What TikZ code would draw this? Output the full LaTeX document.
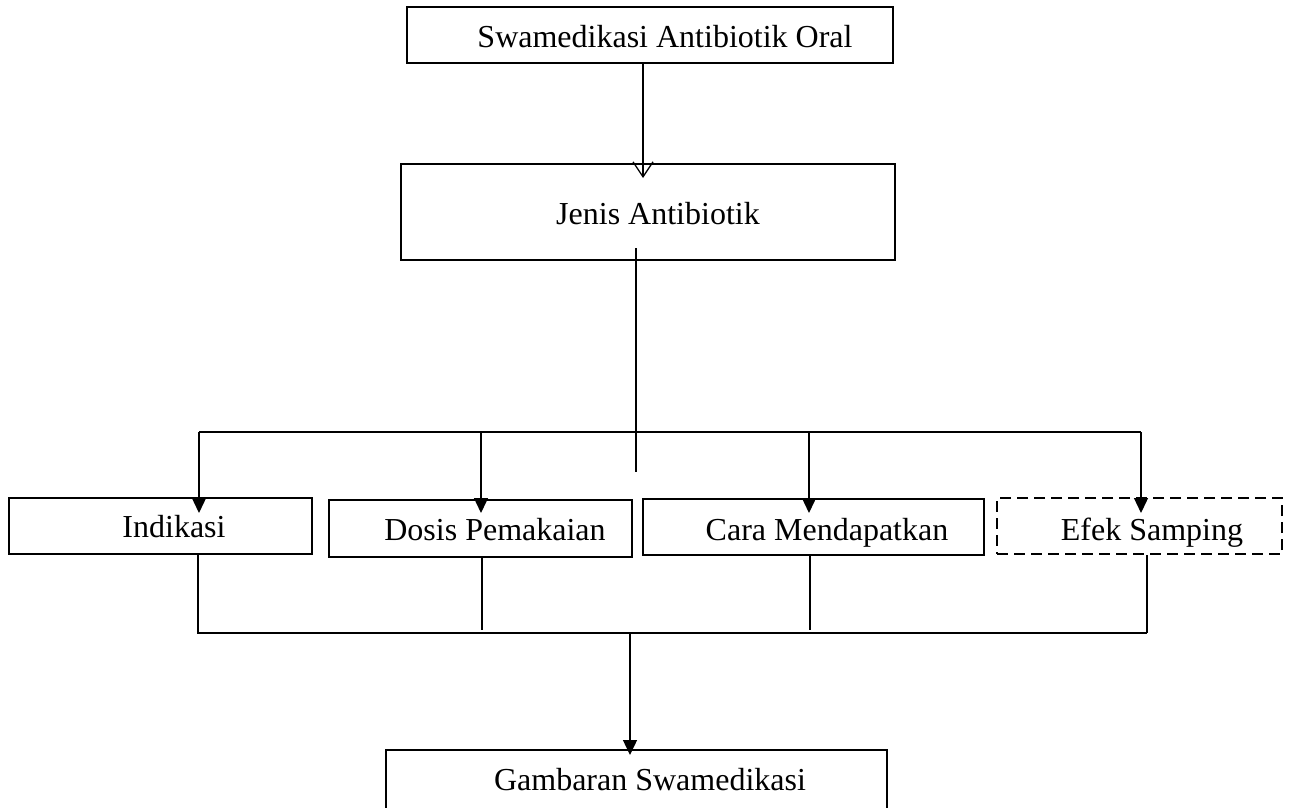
\documentclass[tikz,border=0pt]{standalone}
\usepackage{fontspec}
\setmainfont{Liberation Serif}
\usetikzlibrary{arrows.meta}
\begin{document}
\begin{tikzpicture}[x=1pt,y=-1pt,
  box/.style={draw=black,line width=1.3pt,rectangle,inner sep=0pt,anchor=center},
  dbox/.style={draw=black,line width=2.3pt,rectangle,inner sep=0pt,anchor=center,dash pattern=on 11pt off 6pt},
  lbl/.style={anchor=base,inner sep=0pt,font=\fontsize{32}{38}\selectfont},
  line/.style={draw=black,line width=1.3pt},
  arr/.style={line,-{Triangle[length=15pt,width=14pt]}},
  openarr/.style={line,-{Straight Barb[length=15pt,width=20pt,line width=1.3pt]}}]
\clip (0,0) rectangle (1292,807);
\useasboundingbox (0,0) rectangle (1292,807);
\fill[white] (0,0) rectangle (1292,807);
% boxes
\node[box,minimum width=486pt,minimum height=56pt] (top) at (650,35) {};
\node[box,minimum width=494pt,minimum height=96pt] (jen) at (648,212) {};
\node[box,minimum width=303pt,minimum height=56pt] (ind) at (160.5,526) {};
\node[box,minimum width=303pt,minimum height=57pt] (dos) at (480.5,528.5) {};
\node[box,minimum width=341pt,minimum height=56pt] (car) at (813.5,527) {};
\node[dbox,minimum width=285pt,minimum height=56pt] (efe) at (1139.5,526) {};
\node[box,minimum width=501pt,minimum height=80pt] (gam) at (636.5,790) {};
% labels
\node[lbl] (ttop) at (665,47) {Swamedikasi Antibiotik Oral};
\node[lbl] (tjen) at (658,224) {Jenis Antibiotik};
\node[lbl] (tind) at (174,537) {Indikasi};
\node[lbl] (tdos) at (495,540) {Dosis Pemakaian};
\node[lbl] (tcar) at (827,540) {Cara Mendapatkan};
\node[lbl] (tefe) at (1152,540) {Efek Samping};
\node[lbl] (tgam) at (650,790) {Gambaran Swamedikasi};
% coordinates
\coordinate (tipA) at (643,178);
\coordinate (j1) at (636,248);
\coordinate (j2) at (636,472);
\coordinate (bI) at (199,432);
\coordinate (bD) at (481,432);
\coordinate (bC) at (809,432);
\coordinate (bE) at (1141,432);
\coordinate (tI) at (199,513);
\coordinate (tD) at (481,513);
\coordinate (tC) at (809,513);
\coordinate (tE) at (1141,513);
\coordinate (cI) at (198,634);
\coordinate (cD) at (482,630);
\coordinate (cC) at (810,630);
\coordinate (cE) at (1147,633);
\coordinate (cL) at (197,633);
\coordinate (cM) at (630,633);
\coordinate (tipG) at (630,755);
% connectors
\draw[openarr] (top.south -| tipA) -- (tipA);
\draw[line] (j1) -- (j2);
\draw[line] (bI) -- (bE);
\draw[arr] (bI) -- (tI);
\draw[arr] (bD) -- (tD);
\draw[arr] (bC) -- (tC);
\draw[arr] (bE) -- (tE);
\draw[line] (ind.south -| cI) -- (cI);
\draw[line] (dos.south -| cD) -- (cD);
\draw[line] (car.south -| cC) -- (cC);
\draw[line] (efe.south -| cE) -- (cE);
\draw[line] (cL) -- (cE);
\draw[arr] (cM) -- (tipG);
\end{tikzpicture}
\end{document}
